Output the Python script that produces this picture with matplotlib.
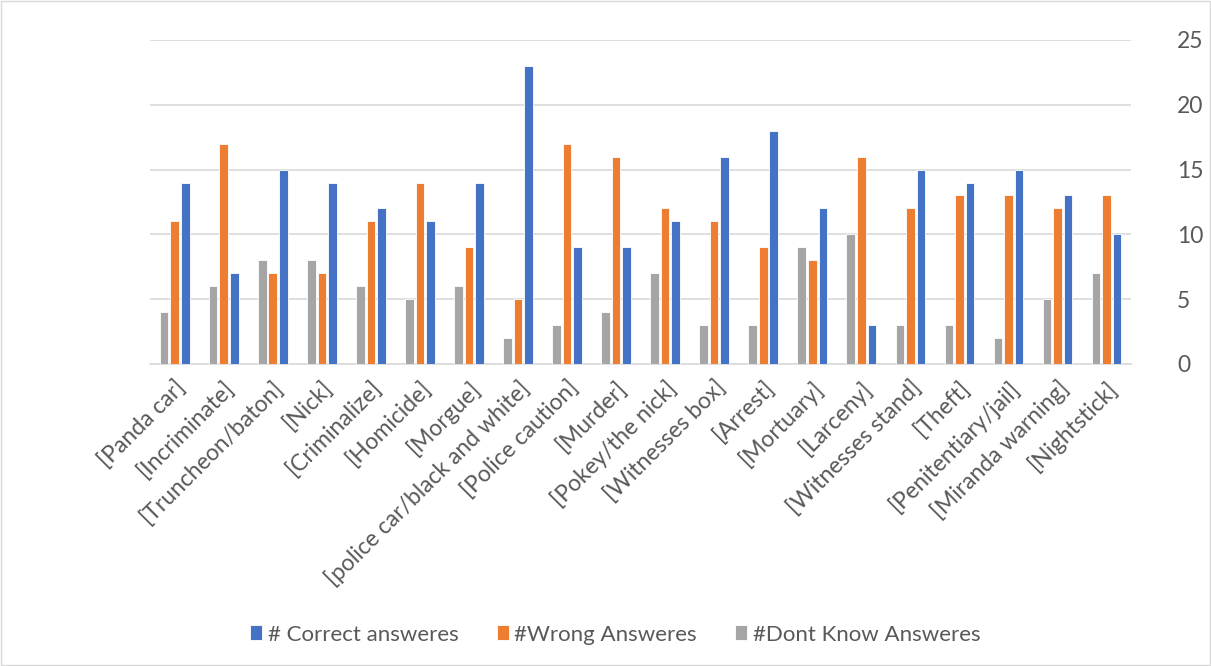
import numpy as np
import matplotlib.pyplot as plt

categories = ["[Panda car]", "[Incriminate]", "[Truncheon/baton]", "[Nick]", "[Criminalize]",
              "[Homicide]", "[Morgue]", "[police car/black and white]", "[Police caution]",
              "[Murder]", "[Pokey/the nick]", "[Witnesses box]", "[Arrest]", "[Mortuary]",
              "[Larceny]", "[Witnesses stand]", "[Theft]", "[Penitentiary/jail]",
              "[Miranda warning]", "[Nightstick]"]
correct = [14, 7, 15, 14, 12, 11, 14, 23, 9, 9, 11, 16, 18, 12, 3, 15, 14, 15, 13, 10]
wrong = [11, 17, 7, 7, 11, 14, 9, 5, 17, 16, 12, 11, 9, 8, 16, 12, 13, 13, 12, 13]
dont_know = [4, 6, 8, 8, 6, 5, 6, 2, 3, 4, 7, 3, 3, 9, 10, 3, 3, 2, 5, 7]

plt.rcParams['font.family'] = ['Lato', 'DejaVu Sans']
text_color = "#595959"

fig = plt.figure(figsize=(12.11, 6.66), dpi=100)
ax = fig.add_axes([0.124, 0.4535, 0.81, 0.4865])

x = np.arange(len(categories))
w = 0.175
step = 0.215
ax.bar(x + step, correct, w, color="#4472C4", edgecolor="white", linewidth=0.6,
       label="# Correct answeres", zorder=3)
ax.bar(x, wrong, w, color="#ED7D31", edgecolor="white", linewidth=0.6,
       label="#Wrong Answeres", zorder=3)
ax.bar(x - step, dont_know, w, color="#A5A5A5", edgecolor="white", linewidth=0.6,
       label="#Dont Know Answeres", zorder=3)

ax.set_xlim(-0.5, len(categories) - 0.5)
ax.set_ylim(0, 25)
ax.set_yticks(range(0, 26, 5))
ax.yaxis.tick_right()
ax.yaxis.set_tick_params(length=0, pad=33, labelsize=16.5, labelcolor=text_color)
ax.xaxis.set_tick_params(length=0, pad=9)
ax.set_xticks(x)
ax.set_xticklabels(categories, rotation=45, ha="right", rotation_mode="anchor",
                   fontsize=16.5, color=text_color)
ax.grid(axis="y", color="#D9D9D9", linewidth=1.2, zorder=0)
for s in ["top", "left", "right"]:
    ax.spines[s].set_visible(False)
ax.spines["bottom"].set_color("#D9D9D9")
ax.spines["bottom"].set_linewidth(1.2)

leg = fig.legend(loc="center", bbox_to_anchor=(0.508, 0.047), ncol=3, frameon=False,
                 fontsize=16, handlelength=0.55, handleheight=0.65, columnspacing=1.7,
                 handletextpad=0.25)
for t in leg.get_texts():
    t.set_color(text_color)

fig.add_artist(plt.Rectangle((0.001, 0.001), 0.998, 0.998, transform=fig.transFigure,
                             fill=False, edgecolor="#D9D9D9", linewidth=1))

fig.savefig("out.png", dpi=100)
